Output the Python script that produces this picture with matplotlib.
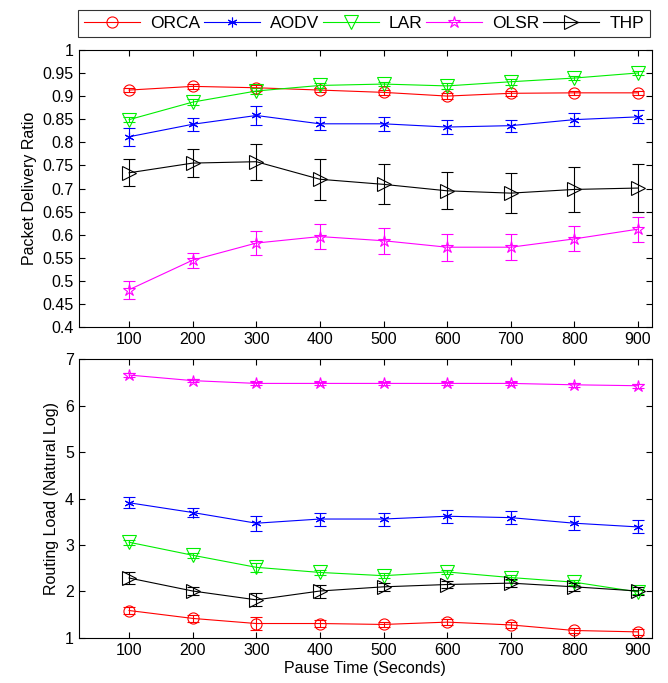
import matplotlib.pyplot as plt
import numpy as np
from matplotlib.lines import Line2D
from matplotlib.ticker import FormatStrFormatter

plt.rcParams['font.family'] = ['Liberation Sans', 'DejaVu Sans']

pause = [100, 200, 300, 400, 500, 600, 700, 800, 900]
protocols = ['ORCA', 'AODV', 'LAR', 'OLSR', 'THP']

# packet delivery ratio (top)
pdr_orca = [0.913, 0.921, 0.918, 0.913, 0.908, 0.900, 0.906, 0.907, 0.907]
pdr_aodv = [0.812, 0.839, 0.858, 0.840, 0.840, 0.833, 0.836, 0.849, 0.855]
pdr_lar = [0.849, 0.887, 0.911, 0.923, 0.926, 0.922, 0.931, 0.939, 0.950]
pdr_olsr = [0.481, 0.545, 0.582, 0.596, 0.587, 0.573, 0.573, 0.591, 0.612]
pdr_thp = [0.734, 0.755, 0.758, 0.720, 0.709, 0.695, 0.690, 0.698, 0.701]

pdr_orca_err = [0.004, 0.005, 0.006, 0.005, 0.005, 0.006, 0.005, 0.004, 0.004]
pdr_aodv_err = [0.019, 0.014, 0.020, 0.014, 0.015, 0.016, 0.013, 0.014, 0.014]
pdr_lar_err = [0.006, 0.006, 0.007, 0.006, 0.005, 0.006, 0.006, 0.005, 0.005]
pdr_olsr_err = [0.019, 0.016, 0.025, 0.027, 0.028, 0.029, 0.028, 0.027, 0.027]
pdr_thp_err = [0.029, 0.030, 0.039, 0.044, 0.043, 0.040, 0.043, 0.048, 0.051]

# routing load, natural log (bottom)
rl_orca = [1.59, 1.42, 1.31, 1.31, 1.29, 1.34, 1.28, 1.16, 1.13]
rl_aodv = [3.91, 3.70, 3.47, 3.56, 3.56, 3.62, 3.59, 3.47, 3.39]
rl_lar = [3.06, 2.78, 2.52, 2.41, 2.34, 2.42, 2.30, 2.20, 1.99]
rl_olsr = [6.66, 6.54, 6.48, 6.48, 6.48, 6.48, 6.48, 6.45, 6.43]
rl_thp = [2.29, 2.01, 1.82, 2.01, 2.10, 2.15, 2.18, 2.10, 2.01]

rl_orca_err = [0.07, 0.07, 0.15, 0.07, 0.06, 0.07, 0.06, 0.06, 0.06]
rl_aodv_err = [0.12, 0.10, 0.16, 0.14, 0.14, 0.14, 0.14, 0.15, 0.14]
rl_lar_err = [0.05, 0.05, 0.10, 0.06, 0.05, 0.05, 0.05, 0.05, 0.05]
rl_olsr_err = [0.04, 0.04, 0.04, 0.04, 0.04, 0.04, 0.04, 0.04, 0.04]
rl_thp_err = [0.13, 0.08, 0.14, 0.14, 0.08, 0.08, 0.08, 0.08, 0.08]

colors = ['#ff0000', '#0000ff', '#00ee00', '#ff00ff', '#000000']
markers = ['o', (6, 2, 0), 'v', '*', '>']
msizes = [8, 7, 10, 9, 10]
mews = [0.8, 0.8, 0.8, 0.8, 0.8]
mfcs = ['none', '#0000ff', 'none', 'none', 'none']

top_data = [(pdr_orca, pdr_orca_err), (pdr_aodv, pdr_aodv_err), (pdr_lar, pdr_lar_err),
            (pdr_olsr, pdr_olsr_err), (pdr_thp, pdr_thp_err)]
bot_data = [(rl_orca, rl_orca_err), (rl_aodv, rl_aodv_err), (rl_lar, rl_lar_err),
            (rl_olsr, rl_olsr_err), (rl_thp, rl_thp_err)]

fig = plt.figure(figsize=(6.68, 6.83), dpi=100)
ax1 = fig.add_axes([0.118, 0.521, 0.858, 0.406])
ax2 = fig.add_axes([0.118, 0.066, 0.858, 0.408])

for ax, data in [(ax1, top_data), (ax2, bot_data)]:
    for i, (y, e) in enumerate(data):
        ax.errorbar(pause, y, yerr=e, color=colors[i], marker=markers[i],
                    ms=msizes[i], mfc=mfcs[i], mec=colors[i], mew=mews[i],
                    lw=0.8, elinewidth=0.8, capsize=4, capthick=0.8)
    ax.set_xlim(21, 922)
    ax.set_xticks(pause)
    ax.tick_params(direction='in', top=True, right=True, labelsize=11.5, length=4)
    for s in ax.spines.values():
        s.set_linewidth(0.8)

ax1.set_ylim(0.4, 1.0)
ax1.set_yticks(np.arange(0.4, 1.001, 0.05))
ax1.yaxis.set_major_formatter(FormatStrFormatter('%g'))
ax1.set_ylabel('Packet Delivery Ratio', fontsize=11.5)

ax2.set_ylim(1, 7)
ax2.set_yticks(range(1, 8))
ax2.set_ylabel('Routing Load (Natural Log)', fontsize=11.5)
ax2.set_xlabel('Pause Time (Seconds)', fontsize=11.5, labelpad=2)

handles = [Line2D([], [], color=colors[i], marker=markers[i], ms=msizes[i],
                  mfc=mfcs[i], mec=colors[i], mew=mews[i], lw=0.8)
           for i in range(len(protocols))]
leg = fig.legend(handles, protocols, loc='lower left', ncol=5, mode='expand',
                 bbox_to_anchor=(0.117, 0.946, 0.856, 0.047), fontsize=12.5,
                 frameon=True, fancybox=False, edgecolor='black',
                 handlelength=3.2, handletextpad=0.6, borderpad=0.35,
                 borderaxespad=0)
leg.get_frame().set_linewidth(0.8)

fig.savefig('out.png', dpi=100)
